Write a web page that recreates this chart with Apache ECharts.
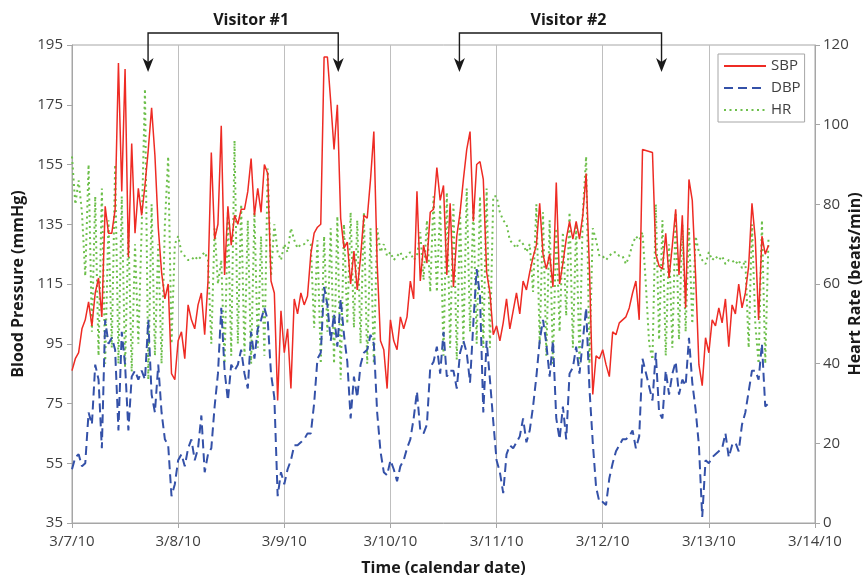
<!DOCTYPE html>
<html>
<head>
<meta charset="utf-8">
<script src="https://cdn.jsdelivr.net/npm/echarts@6/dist/echarts.min.js"></script>
<style>
  html, body { margin: 0; padding: 0; background: #fff; }
  #chart { width: 867px; height: 578px; }
</style>
</head>
<body>
<div id="chart"></div>
<script>
// Calendar labels for the day boundaries (x axis in hours from 3/7/10 00:00)
const dateLabels = ['3/7/10', '3/8/10', '3/9/10', '3/10/10', '3/11/10', '3/12/10', '3/13/10', '3/14/10'];

// Ambulatory monitor: one reading every 45 minutes
const sampleHours = 0.75;

// Systolic blood pressure (mmHg), one row per day; null = failed reading
const sbp = [
  86,90,92,100,103,109,101,112,117,104,141,132,132,140,189,146,187,124,162,132,147,138,148,160,174,158,134,119,110,115,85,83,
  96,99,90,108,103,100,108,112,98,116,159,130,135,168,118,141,128,138,135,140,140,146,157,138,147,139,155,152,116,112,76,106,
  92,100,80,110,105,112,108,111,125,132,134,135,191,191,176,160,175,137,127,129,115,126,113,124,138,137,150,166,122,96,93,80,
  103,96,93,104,100,104,116,110,146,116,128,122,139,140,154,143,148,118,142,114,131,139,150,160,166,136,155,156,150,119,112,98,
  101,96,102,110,100,106,112,105,116,113,119,124,128,142,125,120,125,114,149,115,122,130,136,130,136,130,138,152,120,78,91,90,
  93,88,84,99,98,102,103,104,107,112,116,103,160,null,null,159,125,121,120,132,117,128,140,118,138,107,150,143,118,88,81,97,
  92,103,101,107,102,110,94,108,105,115,107,112,121,142,130,103,131,125,128
];

// Diastolic blood pressure (mmHg)
const dbp = [
  53,57,58,54,55,72,68,88,83,60,103,95,97,93,66,99,88,66,84,86,83,86,83,103,78,72,88,72,63,61,44,48,
  56,58,54,60,63,56,60,71,52,58,60,74,85,107,86,76,88,86,88,93,85,80,99,90,100,103,107,103,85,77,44,52,
  48,53,56,61,61,62,63,65,65,75,90,92,114,108,96,105,94,110,98,89,70,84,77,88,92,93,98,95,72,59,52,51,
  56,53,49,54,56,60,63,70,79,66,65,68,87,89,94,85,99,84,86,86,80,92,96,92,82,102,120,111,72,96,83,69,
  56,52,45,58,61,60,62,64,70,62,66,74,84,96,103,95,84,96,70,63,74,63,85,87,94,85,96,107,80,62,47,42,
  42,41,50,55,59,61,63,63,64,66,60,64,90,null,null,76,92,72,70,86,78,85,89,78,83,81,97,82,73,61,37,56,
  55,57,58,59,60,65,57,61,62,59,68,72,79,86,86,83,95,74,75
];

// Heart rate (beats/min)
const hr = [
  92,80,86,78,62,90,48,82,42,84,40,76,44,90,40,82,39,74,38,70,45,74,109,36,80,42,70,40,75,92,45,70,
  72,68,67,66,66,67,66,67,68,66,45,74,60,66,40,78,42,96,45,80,42,76,40,78,44,72,42,89,62,75,68,66,
  70,68,74,71,69,70,70,71,70,49,71,40,72,48,74,40,77,36,75,50,78,49,76,45,78,40,74,40,74,68,70,67,
  68,66,67,68,66,67,68,66,67,73,61,76,58,82,58,80,42,83,44,80,41,78,45,84,48,80,45,82,44,84,44,82,
  82,78,76,75,71,70,69,71,70,68,70,58,80,45,78,42,76,40,74,48,73,52,78,44,75,40,78,92,40,74,71,67,
  67,66,67,68,68,67,67,65,67,70,72,71,73,60,45,41,80,46,76,42,70,44,78,46,75,48,74,50,72,68,66,65,
  68,66,67,66,67,65,66,66,65,66,64,66,44,75,50,40,76,40,72
];

// Visitor stays (hours from the start of the recording)
const visitorNames = ['Visitor #1', 'Visitor #2'];
const visitorStart = [17.2, 87.6];
const visitorEnd = [60.2, 133.3];

const toPairs = arr => arr.map((v, i) => [i * sampleHours, v]);

const FONT = '"Open Sans", "DejaVu Sans", sans-serif';
const chart = echarts.init(document.getElementById('chart'), null, { renderer: 'canvas' });

const option = {
  backgroundColor: '#ffffff',
  animation: false,
  textStyle: { fontFamily: FONT },
  grid: {
    left: 72, right: 52, top: 45, bottom: 55,
    outerBoundsMode: 'none',
    containLabel: false,
    show: true, borderColor: '#a6a6a6', borderWidth: 1, backgroundColor: 'transparent'
  },
  legend: {
    orient: 'vertical',
    left: 718, top: 54,
    padding: [3, 4, 3, 5],
    itemGap: 4,
    itemWidth: 42, itemHeight: 14,
    backgroundColor: '#ffffff',
    borderColor: '#a6a6a6', borderWidth: 1,
    borderRadius: 0,
    itemStyle: { opacity: 0 },
    textStyle: { fontSize: 15, color: '#404040', fontFamily: FONT, lineHeight: 18 },
    data: ['SBP', 'DBP', 'HR']
  },
  xAxis: {
    type: 'value',
    min: 0, max: 168, interval: 24,
    name: 'Time (calendar date)',
    nameLocation: 'middle', nameGap: 37, nameMoveOverlap: false,
    nameTextStyle: { fontSize: 16, fontWeight: 'bold', color: '#1a1a1a', fontFamily: FONT },
    axisLine: { show: true, lineStyle: { color: '#a6a6a6', width: 1 } },
    axisTick: { show: true, length: 5, lineStyle: { color: '#a6a6a6' } },
    axisLabel: {
      fontSize: 15, color: '#404040', margin: 11, fontFamily: FONT,
      formatter: v => dateLabels[Math.round(v / 24)]
    },
    splitLine: { show: true, lineStyle: { color: '#bfbfbf', width: 1 } }
  },
  yAxis: [
    {
      type: 'value',
      min: 35, max: 195, interval: 20,
      name: 'Blood Pressure (mmHg)',
      nameLocation: 'middle', nameGap: 46, nameRotate: 90, nameMoveOverlap: false,
      nameTextStyle: { fontSize: 16, fontWeight: 'bold', color: '#1a1a1a', fontFamily: FONT },
      axisLine: { show: true, lineStyle: { color: '#a6a6a6', width: 1 } },
      axisTick: { show: true, length: 5, lineStyle: { color: '#a6a6a6' } },
      axisLabel: { fontSize: 15, color: '#404040', margin: 9, fontFamily: FONT },
      splitLine: { show: false }
    },
    {
      type: 'value',
      min: 0, max: 120, interval: 20,
      name: 'Heart Rate (beats/min)',
      nameLocation: 'middle', nameGap: 32, nameRotate: 90, nameMoveOverlap: false,
      nameTextStyle: { fontSize: 16, fontWeight: 'bold', color: '#1a1a1a', fontFamily: FONT },
      axisLine: { show: true, lineStyle: { color: '#a6a6a6', width: 1 } },
      axisTick: { show: true, length: 5, lineStyle: { color: '#a6a6a6' } },
      axisLabel: { fontSize: 15, color: '#404040', margin: 8, fontFamily: FONT },
      splitLine: { show: false }
    }
  ],
  series: [
    {
      name: 'HR', type: 'line', yAxisIndex: 1,
      data: toPairs(hr), symbol: 'none', connectNulls: true,
      lineStyle: { color: '#6dbf4b', width: 2, type: [2, 3.5] },
      itemStyle: { color: '#6dbf4b' }, z: 2
    },
    {
      name: 'DBP', type: 'line', yAxisIndex: 0,
      data: toPairs(dbp), symbol: 'none', connectNulls: true,
      lineStyle: { color: '#3451a8', width: 2, type: [9, 5] },
      itemStyle: { color: '#3451a8' }, z: 3
    },
    {
      name: 'SBP', type: 'line', yAxisIndex: 0,
      data: toPairs(sbp), symbol: 'none', connectNulls: true,
      lineStyle: { color: '#ee2b24', width: 1.5 },
      itemStyle: { color: '#ee2b24' }, z: 4
    }
  ]
};

chart.setOption(option);

// Visitor brackets with arrows, placed from the x axis scale
function visitorGraphics() {
  const els = [];
  const topY = 33, tipY = 72;
  visitorNames.forEach((name, k) => {
    const x1 = chart.convertToPixel({ xAxisIndex: 0 }, visitorStart[k]);
    const x2 = chart.convertToPixel({ xAxisIndex: 0 }, visitorEnd[k]);
    els.push({
      type: 'polyline',
      shape: { points: [[x1, tipY - 8], [x1, topY], [x2, topY], [x2, tipY - 8]] },
      style: { stroke: '#1a1a1a', lineWidth: 1.4, fill: null },
      z: 10
    });
    [x1, x2].forEach(x => {
      els.push({
        type: 'polygon',
        shape: { points: [[x, tipY], [x - 5.5, tipY - 14], [x, tipY - 10], [x + 5.5, tipY - 14]] },
        style: { fill: '#1a1a1a' },
        z: 10
      });
    });
    els.push({
      type: 'text',
      x: (x1 + x2) / 2 + 8, y: 20,
      style: {
        text: name, fill: '#1a1a1a',
        font: 'bold 16px ' + FONT,
        align: 'center', verticalAlign: 'middle'
      },
      z: 10
    });
  });
  return els;
}

chart.setOption({ graphic: { elements: visitorGraphics() } });
</script>
</body>
</html>
